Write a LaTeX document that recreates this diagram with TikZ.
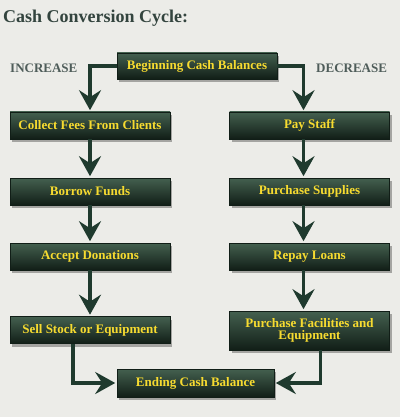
\documentclass[tikz,border=0pt]{standalone}
\usepackage{fontspec}
\setmainfont{Liberation Serif}
\usetikzlibrary{arrows.meta,shadows,calc}
\definecolor{bgc}{HTML}{ECECE8}
\definecolor{boxtop}{HTML}{44604F}
\definecolor{boxmid}{HTML}{1B2F24}
\definecolor{boxbot}{HTML}{111E17}
\definecolor{txty}{HTML}{F7DB30}
\definecolor{titlec}{HTML}{33443E}
\definecolor{sidec}{HTML}{4F5D5A}
\definecolor{arrc}{HTML}{1F3A2E}
\tikzset{
  marble/.style={rectangle, minimum width=160pt, minimum height=27pt, inner sep=2pt,
    top color=boxtop, middle color=boxmid, bottom color=boxbot,
    draw=boxbot, line width=0.6pt,
    text=txty, font=\fontsize{13}{12}\selectfont\bfseries, align=center,
    drop shadow={shadow xshift=2pt, shadow yshift=-3pt, fill=black, opacity=0.3}},
  flow/.style={draw=arrc, line width=3.5pt,
    -{Stealth[length=20pt, width=22pt, inset=7pt]}, shorten >=1.5pt},
  sidelabel/.style={text=sidec, font=\fontsize{13}{13}\selectfont\bfseries, anchor=west, inner sep=0pt}
}
\begin{document}
\begin{tikzpicture}[x=1pt, y=-1pt]
\useasboundingbox (0,0) rectangle (400,417);
\fill[bgc] (0,0) rectangle (400,417);

\node[anchor=west, inner sep=0pt, text=titlec, font=\fontsize{18}{20}\selectfont\bfseries] (title) at (3,18) {Cash Conversion Cycle:};
\node[sidelabel] (inc) at (10,68) {INCREASE};
\node[sidelabel] (dec) at (316,68) {DECREASE};

\node[marble, minimum height=26pt] (begin) at (197,66) {Beginning Cash Balances};
\node[marble] (collect) at (90,125.5) {Collect Fees From Clients};
\node[marble] (pay) at (309.5,125.5) {Pay Staff};
\node[marble] (borrow) at (90,191.5) {Borrow Funds};
\node[marble] (supplies) at (309.5,191.5) {Purchase Supplies};
\node[marble] (donations) at (90,256.5) {Accept Donations};
\node[marble] (repay) at (309.5,256.5) {Repay Loans};
\node[marble] (sell) at (90,330) {Sell Stock or Equipment};
\node[marble, minimum height=39pt] (facilities) at (309.5,330.5) {Purchase Facilities and\\Equipment};
\node[marble, minimum width=157pt, minimum height=28pt] (ending) at (195.5,383) {Ending Cash Balance};

\draw[flow] (begin.west) -| (collect.north);
\draw[flow] (begin.east) -| ([xshift=-6pt]pay.north);
\draw[flow] (collect.south) -- (borrow.north);
\draw[flow] (borrow.south) -- (donations.north);
\draw[flow] (donations.south) -- (sell.north);
\draw[flow] ([xshift=-6pt]pay.south) -- ([xshift=-6pt]supplies.north);
\draw[flow] ([xshift=-6pt]supplies.south) -- ([xshift=-6pt]repay.north);
\draw[flow] ([xshift=-6pt]repay.south) -- ([xshift=-6pt]facilities.north);
\draw[flow] ([xshift=-17pt]sell.south) |- (ending.west);
\draw[flow] ([xshift=11pt]facilities.south) |- (ending.east);
\end{tikzpicture}
\end{document}
